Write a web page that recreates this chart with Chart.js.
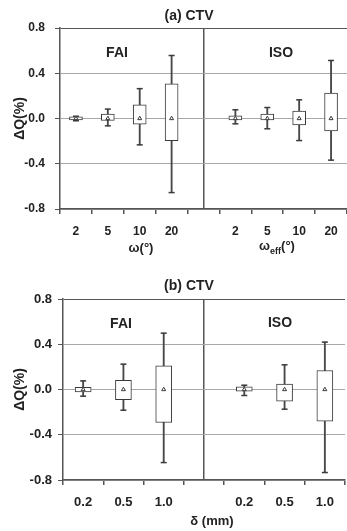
<!DOCTYPE html>
<html lang="en">
<head>
  <meta charset="UTF-8" /><meta name="viewport" content="width=device-width,initial-scale=1" />
  <title>CTV ΔQ box plots</title>
  <script src="https://cdn.jsdelivr.net/npm/chart.js"></script>
  <style>
    body{margin:0;width:347px;height:531px;overflow:hidden;background:#fff;position:relative;
         font-family:"Liberation Sans",Arial,sans-serif;font-weight:bold;color:#222;}
    .wrap{position:absolute;left:0;}
    .t{position:absolute;white-space:nowrap;transform:translate(-50%,-50%);font-size:14px;}
    .ax{font-size:13px;}
    sub{font-size:9px;}
  </style>
</head>
<body>
  <div class="wrap" style="top:0"><canvas id="chartA" width="357" height="262"></canvas></div>
  <div class="wrap" style="top:265px"><canvas id="chartB" width="355" height="266"></canvas></div>

  <div class="t" style="left:189px;top:15px">(a) CTV</div>
  <div class="t" style="left:117px;top:52px">FAI</div>
  <div class="t" style="left:281px;top:52px">ISO</div>
  <div class="t ax" style="left:141px;top:247px">ω(°)</div>
  <div class="t ax" style="left:277px;top:247px">ω<sub>eff</sub>(°)</div>

  <div class="t" style="left:189px;top:285px">(b) CTV</div>
  <div class="t" style="left:121px;top:323px">FAI</div>
  <div class="t" style="left:280px;top:322px">ISO</div>
  <div class="t ax" style="left:212px;top:520px">δ (mm)</div>

  <script>
    // (a) omega: FAI 2,5,10,20 then ISO 2,5,10,20
    const omegaLabels = ['2', '5', '10', '20'];
    const aMin  = [-0.02, -0.065, -0.233, -0.655, -0.047, -0.091, -0.195, -0.368];
    const aQ1   = [-0.012, -0.018, -0.05, -0.196, -0.012, -0.012, -0.056, -0.109];
    const aQ3   = [0.015, 0.039, 0.121, 0.307, 0.024, 0.039, 0.065, 0.225];
    const aMax  = [0.02, 0.083, 0.264, 0.557, 0.077, 0.097, 0.165, 0.513];
    const aMean = [0, 0, 0, 0, 0, 0, 0, 0];

    // (b) delta: FAI 0.2,0.5,1.0 then ISO 0.2,0.5,1.0
    const deltaLabels = ['0.2', '0.5', '1.0'];
    const bMin  = [-0.059, -0.183, -0.646, -0.053, -0.174, -0.734];
    const bQ1   = [-0.021, -0.089, -0.292, -0.015, -0.103, -0.28];
    const bQ3   = [0.02, 0.082, 0.209, 0.023, 0.047, 0.168];
    const bMax  = [0.076, 0.224, 0.498, 0.038, 0.218, 0.419];
    const bMean = [0, 0, 0, 0, 0, 0];

    const yTicks = [-0.8, -0.4, 0, 0.4, 0.8];

    const ink = '#3a3a3a', axisCol = '#555', gridCol = '#a8a8a8';

    function makeChart(id, labels, mins, q1s, q3s, maxs, means, o) {
      const n = labels.length;
      const pos = i => (i < n ? i : i + 1) + 0.5;   // one empty slot between FAI and ISO
      const divider = n + 0.5;
      const xs = mins.map((_, i) => pos(i));

      const datasets = [
        { type: 'bar', data: xs.map((x, i) => ({x, y: [mins[i], maxs[i]]})),
          backgroundColor: '#484848', barThickness: 1.2, grouped: false, order: 3 },
        { type: 'bar', data: xs.map((x, i) => ({x, y: [q1s[i], q3s[i]]})),
          backgroundColor: '#fff', borderColor: ink, borderWidth: 1, borderSkipped: false,
          barThickness: o.boxW, grouped: false, order: 2 },
        { type: 'scatter', data: xs.flatMap((x, i) => [{x, y: mins[i]}, {x, y: maxs[i]}]),
          pointStyle: 'line', radius: 3, borderWidth: 1.5, borderColor: ink, order: 1 },
        { type: 'scatter', data: xs.map((x, i) => ({x, y: means[i]})),
          pointStyle: 'triangle', radius: 2.3, borderWidth: 1, borderColor: ink,
          backgroundColor: '#fff', order: 0 }
      ];

      const font = {family: '"Liberation Sans", Arial, sans-serif', weight: 'bold', size: o.fs};

      return new Chart(document.getElementById(id), {
        type: 'bar',
        data: {datasets},
        options: {
          responsive: false, animation: false, events: [],
          layout: {padding: {top: o.top, left: 0, right: 0, bottom: 0}},
          plugins: {legend: {display: false}, tooltip: {enabled: false}},
          scales: {
            x: {
              type: 'linear', min: 0, max: 2 * n + 1, offset: false,
              afterFit: s => { s.height = o.xH; },
              afterBuildTicks: s => {
                const v = [];
                for (let k = 0; k <= 2 * n + 1; k++) v.push(k);
                xs.forEach(x => v.push(x));
                v.push(divider);
                s.ticks = v.sort((a, b) => a - b).map(value => ({value}));
              },
              border: {color: axisCol, width: 1.5},
              grid: {
                offset: false, tickLength: 5, lineWidth: 1.5,
                color: c => c.tick && c.tick.value === divider ? axisCol : 'rgba(0,0,0,0)',
                tickColor: c => c.tick && Number.isInteger(c.tick.value) ? axisCol : 'rgba(0,0,0,0)'
              },
              ticks: {
                autoSkip: false, maxRotation: 0, minRotation: 0, padding: o.xPad,
                color: '#222', font,
                callback: v => {
                  const i = xs.indexOf(v);
                  return i < 0 ? '' : labels[i % n];
                }
              }
            },
            y: {
              min: -0.8, max: 0.8,
              afterFit: s => { s.width = o.yW; },
              afterBuildTicks: s => { s.ticks = yTicks.map(value => ({value})); },
              border: {color: axisCol, width: 1.5},
              grid: {
                tickLength: 5, tickColor: axisCol,
                color: c => c.tick && c.tick.value === 0.8 ? axisCol : gridCol
              },
              ticks: {color: '#222', font, padding: o.yPad, callback: v => v.toFixed(1)},
              title: {display: true, text: 'ΔQ(%)', color: '#222', font: {...font, size: 14},
                      padding: {top: 12, bottom: 0}}
            }
          }
        }
      });
    }

    makeChart('chartA', omegaLabels, aMin, aQ1, aQ3, aMax, aMean,
      {top: 28, xH: 53, yW: 60, boxW: 13, fs: 12, xPad: 10, yPad: 10});
    makeChart('chartB', deltaLabels, bMin, bQ1, bQ3, bMax, bMean,
      {top: 34, xH: 51, yW: 63, boxW: 16, fs: 13, xPad: 10, yPad: 6});
  </script>
</body>
</html>
